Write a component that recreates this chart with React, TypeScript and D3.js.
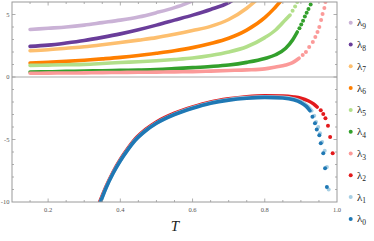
import React from "react";
import * as d3 from "d3";

// eigenvalues lambda_i vs temperature T
// each series: continuous part (drawn as thick line) + tail (drawn as dots)
const names = ["0", "1", "2", "3", "4", "5", "6", "7", "8", "9"];
const colors = ["#1f78b4", "#a6cee3", "#e31a1c", "#fb9a99", "#33a02c", "#b2df8a", "#ff7f00", "#fdbf6f", "#6a3d9a", "#cab2d6"];

const l0Line = [[0.345, -10], [0.36, -8.9], [0.38, -7.7], [0.4, -6.7], [0.42, -5.85], [0.44, -5.1], [0.47, -4.3], [0.5, -3.7], [0.55, -3.0], [0.6, -2.5], [0.65, -2.1], [0.7, -1.85], [0.75, -1.7], [0.8, -1.63], [0.85, -1.68], [0.88, -1.82], [0.9, -2.05], [0.915, -2.35], [0.925, -2.7]];
const l0Dots = [[0.932, -3.17], [0.939, -3.7], [0.944, -4.2], [0.951, -4.65], [0.955, -5.3], [0.962, -6.1], [0.967, -7.3], [0.972, -8.8]];
const l1Line = [[0.345, -10], [0.36, -8.88], [0.38, -7.68], [0.4, -6.68], [0.42, -5.83], [0.44, -5.08], [0.47, -4.28], [0.5, -3.68], [0.55, -2.97], [0.6, -2.46], [0.65, -2.06], [0.7, -1.8], [0.75, -1.65], [0.8, -1.58], [0.85, -1.62], [0.88, -1.75], [0.9, -1.95], [0.92, -2.35], [0.93, -2.7]];
const l1Dots = [[0.937, -3.1], [0.942, -3.6], [0.948, -4.0], [0.953, -4.5], [0.959, -5.2], [0.966, -5.9], [0.972, -7.2], [0.977, -9.0]];
const l2Line = [[0.343, -10], [0.36, -8.8], [0.38, -7.6], [0.4, -6.6], [0.42, -5.75], [0.44, -5.0], [0.47, -4.2], [0.5, -3.6], [0.55, -2.9], [0.6, -2.4], [0.65, -2.0], [0.7, -1.75], [0.75, -1.58], [0.8, -1.5], [0.85, -1.52], [0.88, -1.6], [0.9, -1.7], [0.92, -1.9], [0.935, -2.15], [0.945, -2.4]];
const l2Dots = [[0.955, -2.65], [0.962, -2.95], [0.968, -3.3], [0.975, -3.9], [0.981, -4.8], [0.988, -6.1]];
const l3Line = [[0.15, 0.3], [0.2, 0.31], [0.25, 0.32], [0.3, 0.33], [0.35, 0.35], [0.4, 0.36], [0.45, 0.38], [0.5, 0.39], [0.55, 0.41], [0.6, 0.43], [0.65, 0.47], [0.7, 0.52], [0.75, 0.57], [0.8, 0.65], [0.83, 0.8], [0.858, 0.96], [0.877, 1.15], [0.895, 1.5]];
const l3Dots = [[0.905, 1.76], [0.914, 2.0], [0.923, 2.4], [0.933, 2.8], [0.94, 3.2], [0.946, 3.6], [0.951, 4.0], [0.956, 4.56], [0.96, 5.04], [0.965, 5.52], [0.968, 6.0]];
const l4Line = [[0.15, 0.4], [0.2, 0.42], [0.25, 0.45], [0.3, 0.48], [0.35, 0.5], [0.4, 0.53], [0.45, 0.56], [0.5, 0.6], [0.55, 0.67], [0.6, 0.75], [0.65, 0.84], [0.7, 0.96], [0.75, 1.17], [0.8, 1.48], [0.83, 1.78], [0.858, 2.3], [0.877, 2.96], [0.89, 3.6]];
const l4Dots = [[0.896, 3.9], [0.901, 4.2], [0.906, 4.5], [0.911, 4.85], [0.916, 5.15], [0.921, 5.45], [0.927, 5.8]];
const l5Line = [[0.15, 0.93], [0.2, 0.95], [0.25, 0.98], [0.3, 1.01], [0.35, 1.08], [0.4, 1.16], [0.45, 1.22], [0.5, 1.3], [0.55, 1.4], [0.6, 1.52], [0.65, 1.72], [0.7, 2.0], [0.75, 2.42], [0.8, 3.15], [0.83, 3.76], [0.858, 4.6], [0.87, 4.95]];
const l5Dots = [[0.877, 5.3], [0.884, 5.65], [0.89, 6.0]];
const l6Line = [[0.15, 1.12], [0.2, 1.18], [0.25, 1.25], [0.3, 1.34], [0.35, 1.45], [0.4, 1.57], [0.45, 1.72], [0.5, 1.9], [0.55, 2.1], [0.6, 2.35], [0.65, 2.68], [0.7, 3.1], [0.75, 3.75], [0.8, 4.75], [0.825, 5.45], [0.845, 6.1]];
const l7Line = [[0.15, 2.1], [0.2, 2.18], [0.25, 2.3], [0.3, 2.42], [0.35, 2.58], [0.4, 2.76], [0.45, 2.95], [0.5, 3.15], [0.55, 3.42], [0.6, 3.72], [0.65, 4.05], [0.7, 4.6], [0.75, 5.5], [0.775, 6.1]];
const l8Line = [[0.15, 2.45], [0.2, 2.55], [0.25, 2.72], [0.3, 2.92], [0.35, 3.17], [0.4, 3.45], [0.45, 3.78], [0.5, 4.15], [0.55, 4.55], [0.6, 4.95], [0.65, 5.4], [0.7, 5.95], [0.72, 6.3]];
const l9Line = [[0.15, 3.8], [0.2, 3.9], [0.25, 4.0], [0.3, 4.15], [0.35, 4.35], [0.4, 4.55], [0.45, 4.8], [0.5, 5.15], [0.55, 5.55], [0.58, 5.85], [0.6, 6.1]];

const lines = [l0Line, l1Line, l2Line, l3Line, l4Line, l5Line, l6Line, l7Line, l8Line, l9Line];
const dots = [l0Dots, l1Dots, l2Dots, l3Dots, l4Dots, l5Dots, [], [], [], []];

const xTickLabels = [0.2, 0.4, 0.6, 0.8, 1.0];
const yTickLabels = [-10, -5, 0, 5];

const App = () => {
  const W = 374, H = 241;
  const left = 12, right = 337, top = 2, bottom = 202;
  const x = d3.scaleLinear().domain([0.1, 1.0]).range([left, right]);
  const y = d3.scaleLinear().domain([-10, 6]).range([bottom, top]);
  const line = d3.line<number[]>().x((d) => x(d[0])).y((d) => y(d[1])).curve(d3.curveMonotoneX);

  const xMinor = d3.range(0.15, 1.0, 0.05);
  const yMinor = d3.range(-9, 6, 1);
  const axisCol = "#9a9a9a";
  const font = "'Liberation Serif', 'DejaVu Serif', serif";
  const order = d3.range(9, -1, -1); // lambda9 drawn first, lambda0 on top

  return (
    <svg width={W} height={H} style={{ position: "absolute", left: 0, top: 0 }}>
      <defs>
        <clipPath id="plot">
          <rect x={left} y={top} width={right - left} height={bottom - top} />
        </clipPath>
      </defs>
      <line x1={left} x2={right} y1={y(0)} y2={y(0)} stroke="#aaa" strokeWidth={1} />
      <g clipPath="url(#plot)">
        {order.map((i) => (
          <g key={i}>
            <path d={line(lines[i] as number[][]) || ""} fill="none" stroke={colors[i]} strokeWidth={3.6} strokeLinecap="round" />
            {(dots[i] as number[][]).map((d, j) => (
              <circle key={j} cx={x(d[0])} cy={y(d[1])} r={2} fill={colors[i]} />
            ))}
          </g>
        ))}
      </g>
      <rect x={left} y={top} width={right - left} height={bottom - top} fill="none" stroke={axisCol} strokeWidth={1} />
      {xMinor.map((t, i) => {
        const major = xTickLabels.some((v) => Math.abs(v - t) < 1e-6);
        const len = major ? 3.5 : 2;
        return (
          <g key={i} stroke={axisCol} strokeWidth={0.8}>
            <line x1={x(t)} x2={x(t)} y1={bottom} y2={bottom - len} />
            <line x1={x(t)} x2={x(t)} y1={top} y2={top + len} />
          </g>
        );
      })}
      {yMinor.map((v, i) => {
        const major = yTickLabels.includes(v);
        const len = major ? 3.5 : 2;
        return (
          <g key={i} stroke={axisCol} strokeWidth={0.8}>
            <line x1={left} x2={left + len} y1={y(v)} y2={y(v)} />
            <line x1={right} x2={right - len} y1={y(v)} y2={y(v)} />
          </g>
        );
      })}
      {xTickLabels.map((v) => (
        <text key={v} x={x(v)} y={bottom + 9.5} textAnchor="middle" fontFamily={font} fontSize={6.5} fill="#555">
          {v.toFixed(1)}
        </text>
      ))}
      {yTickLabels.map((v) => (
        <text key={v} x={left - 2.5} y={y(v) + 2.3} textAnchor="end" fontFamily={font} fontSize={6.5} fill="#555">
          {v < 0 ? "-" + Math.abs(v) : v}
        </text>
      ))}
      <text x={175} y={231} textAnchor="middle" fontFamily={font} fontStyle="italic" fontSize={15} fill="#222">
        T
      </text>
      {order.map((i, k) => {
        const ly = 22.7 + k * 21.8;
        return (
          <g key={i}>
            <circle cx={350.7} cy={ly} r={2} fill={colors[i]} />
            <text x={357} y={ly + 3.5} fontFamily={font} fontSize={11} fill="#222">
              λ<tspan fontSize={7.5} dy={2.5}>{names[i]}</tspan>
            </text>
          </g>
        );
      })}
    </svg>
  );
};

export default App;
